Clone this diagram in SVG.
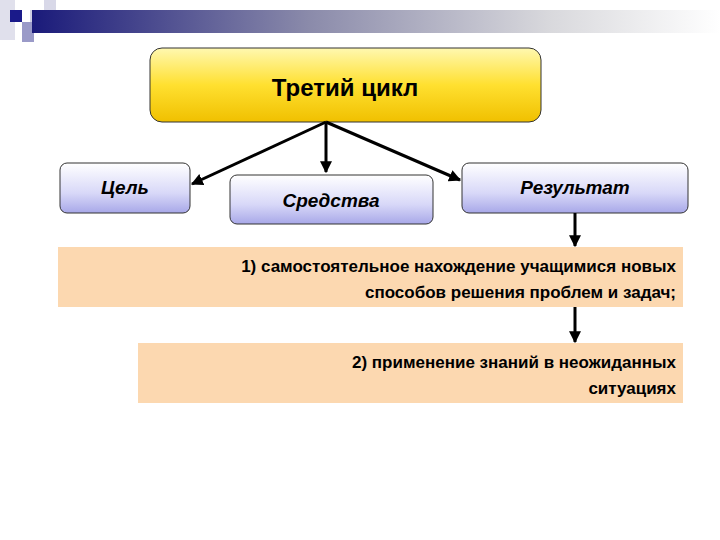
<svg xmlns="http://www.w3.org/2000/svg" width="720" height="540" viewBox="0 0 720 540">
<defs>
<linearGradient id="bar" x1="0" x2="1" y1="0" y2="0"><stop offset="0" stop-color="#1a1a7a"/><stop offset="0.4" stop-color="#8a8aaa"/><stop offset="0.75" stop-color="#d8d8dc"/><stop offset="1" stop-color="#ffffff"/></linearGradient>
<linearGradient id="yel" x1="0" x2="0" y1="0" y2="1"><stop offset="0" stop-color="#fff8b0"/><stop offset="0.5" stop-color="#ffe030"/><stop offset="1" stop-color="#f0c000"/></linearGradient>
<linearGradient id="blu" x1="0" x2="0" y1="0" y2="1"><stop offset="0" stop-color="#ffffff"/><stop offset="0.6" stop-color="#d8d8f8"/><stop offset="1" stop-color="#a8a8e8"/></linearGradient>
<marker id="ah" viewBox="0 0 10 10" refX="9" refY="5" markerWidth="4" markerHeight="4" orient="auto"><path d="M0,0L10,5L0,10z" fill="#000"/></marker>
</defs>
<style>
.b{fill:url(#blu);stroke:#333;stroke-width:1}
.p{fill:#fcd8b0}
.t{font-family:"Liberation Sans",Arial,sans-serif;font-weight:bold;fill:#000}
.i{font-style:italic;font-size:19px}
.c{stroke:#000;stroke-width:3;fill:none;marker-end:url(#ah)}
</style>
<rect width="720" height="540" fill="#fff"/>
<g id="decor">
<rect x="0" y="0" width="15" height="40" fill="#e0e0ec"/>
<rect x="44" y="0" width="12" height="22" fill="#d8d8e8"/>
<rect x="30" y="10" width="26" height="20" fill="#d0d0e4"/>
<rect x="10" y="10" width="12" height="12" fill="#1a1a8a"/>
<rect x="22" y="22" width="12" height="20" fill="#9a9ac8"/>
<rect x="32" y="10" width="688" height="23" fill="url(#bar)"/>
</g>
<g id="main"><rect x="150" y="48" width="391" height="74" rx="12" fill="url(#yel)" stroke="#333"/><text class="t" x="345" y="96" font-size="24" text-anchor="middle">Третий цикл</text></g>
<g id="goal"><rect class="b" x="60" y="163" width="130" height="50" rx="7"/><text class="t i" x="125" y="194" text-anchor="middle">Цель</text></g>
<g id="means"><rect class="b" x="230" y="175" width="203" height="49" rx="7"/><text class="t i" x="331" y="207" text-anchor="middle">Средства</text></g>
<g id="result"><rect class="b" x="462" y="163" width="226" height="50" rx="7"/><text class="t i" x="575" y="194" text-anchor="middle">Результат</text></g>
<g id="r1"><rect class="p" x="58" y="247" width="625" height="60"/><text class="t" font-size="17" text-anchor="end"><tspan x="676" y="272">1) самостоятельное нахождение учащимися новых</tspan><tspan x="676" y="298">способов решения проблем и задач;</tspan></text></g>
<g id="r2"><rect class="p" x="138" y="343" width="545" height="60"/><text class="t" font-size="17" text-anchor="end"><tspan x="676" y="368">2) применение знаний в неожиданных</tspan><tspan x="676" y="394">ситуациях</tspan></text></g>
<g id="connectors">
<line class="c" x1="326" y1="122" x2="192" y2="184"/>
<line class="c" x1="326" y1="122" x2="326" y2="172"/>
<line class="c" x1="326" y1="122" x2="460" y2="180"/>
<line class="c" x1="575" y1="213" x2="575" y2="246"/>
<line class="c" x1="575" y1="307" x2="575" y2="342"/>
</g>
</svg>
